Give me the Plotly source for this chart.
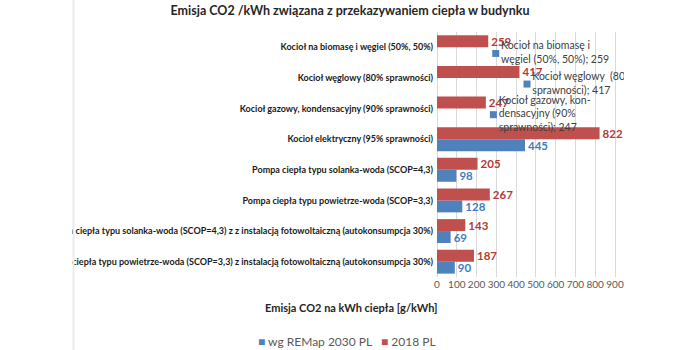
import plotly.graph_objects as go

# ---------------- data ----------------
categories = [
    "Kocioł na biomasę i węgiel (50%, 50%)",
    "Kocioł węglowy (80% sprawności)",
    "Kocioł gazowy, kondensacyjny (90% sprawności)",
    "Kocioł elektryczny (95% sprawności)",
    "Pompa ciepła typu solanka-woda (SCOP=4,3)",
    "Pompa ciepła typu powietrze-woda (SCOP=3,3)",
    "Pompa ciepła typu solanka-woda (SCOP=4,3) z z instalacją fotowoltaiczną (autokonsumpcja 30%)",
    "Pompa ciepła typu powietrze-woda (SCOP=3,3) z instalacją fotowoltaiczną (autokonsumpcja 30%)",
]
emis_2018 = [259, 417, 247, 822, 205, 267, 143, 187]
emis_remap = [None, None, None, 445, 98, 128, 69, 90]
series_names = ["wg REMap 2030 PL", "2018 PL"]
x_ticks = [0, 100, 200, 300, 400, 500, 600, 700, 800, 900]
# wrapped category names shown in the stray data-label callouts (first three rows)
callout_names = [
    "Kocioł na biomasę i<br>węgiel (50%, 50%)",
    "Kocioł węglowy  (80%<br>sprawności)",
    "Kocioł gazowy, kon-<br>densacyjny (90%<br>sprawności)",
]

title_text = "Emisja CO2 /kWh związana z przekazywaniem ciepła w budynku"
x_title = "Emisja CO2 na kWh ciepła [g/kWh]"

# ---------------- style ----------------
BLUE = "#4F81BD"
RED = "#C0504D"
BLUE_LBL = "#3F7CC0"
RED_LBL = "#B23B38"
FONT = "Lato"
W, H = 700, 350

n = len(categories)
ypos = [n - 1 - i for i in range(n)]

fig = go.Figure()

fig.add_trace(go.Bar(
    name=series_names[0], orientation="h",
    x=emis_remap, y=ypos,
    marker=dict(color=BLUE, line=dict(width=0)),
    text=[("" if v is None else str(v)) for v in emis_remap],
    textposition="outside", constraintext="none", cliponaxis=False,
    textfont=dict(family=FONT, size=11.5, color=BLUE_LBL, weight="bold"),
    hoverinfo="skip",
))
fig.add_trace(go.Bar(
    name=series_names[1], orientation="h",
    x=emis_2018, y=ypos,
    marker=dict(color=RED, line=dict(width=0)),
    text=[str(v) for v in emis_2018],
    textposition="outside", constraintext="none", cliponaxis=False,
    textfont=dict(family=FONT, size=11.5, color=RED_LBL, weight="bold"),
    hoverinfo="skip",
))

# stray callout labels (legend-key square + category; value)
k = len(callout_names)
callout_offset = 38
fig.add_trace(go.Scatter(
    x=[emis_2018[i] + callout_offset for i in range(k)],
    y=[ypos[i] - 0.2 for i in range(k)],
    mode="markers+text",
    marker=dict(symbol="square", size=7, color=BLUE),
    text=[f"{callout_names[i]}; {emis_2018[i]}" for i in range(k)],
    textposition="middle right",
    textfont=dict(family=FONT, size=10.5, color="#404040"),
    cliponaxis=True, showlegend=False, hoverinfo="skip",
))

x0_px, x900_px, xr_px = 437, 615, 624
x_max = 900 * (xr_px - x0_px) / (x900_px - x0_px)
y_top_px, y_bot_px = 32, 277

fig.update_layout(
    template="none",
    width=W, height=H,
    margin=dict(l=0, r=0, t=0, b=0),
    paper_bgcolor="white", plot_bgcolor="white",
    barmode="group", bargap=0.22, bargroupgap=0,
    showlegend=False,
    font=dict(family=FONT, color="#404040"),
    title=dict(text=title_text, x=0.5, xanchor="center",
               y=1 - 11 / H, yanchor="middle",
               font=dict(family=FONT, size=12.5, color="#262626", weight="bold")),
    xaxis=dict(
        domain=[x0_px / W, xr_px / W], range=[0, x_max],
        tickvals=x_ticks, ticktext=[str(t) for t in x_ticks],
        showgrid=True, gridcolor="#D9D9D9", gridwidth=1,
        zeroline=True, zerolinecolor="#D9D9D9", zerolinewidth=1,
        showline=False, ticks="", automargin=False,
        tickfont=dict(family=FONT, size=10, color="#595959"),
    ),
    yaxis=dict(
        domain=[1 - y_bot_px / H, 1 - y_top_px / H], range=[-0.5, n - 0.5],
        tickvals=ypos, ticktext=categories,
        showgrid=False, zeroline=False, showline=False, ticks="",
        automargin=False, ticklabelstandoff=3,
        tickfont=dict(family=FONT, size=9, color="#1A1A1A", weight="bold"),
    ),
)

# chart-area edge on the left (labels are cut there)
fig.add_shape(type="rect", xref="paper", yref="paper", x0=0, x1=72 / W, y0=0, y1=1,
              fillcolor="white", line=dict(width=0), layer="above")
fig.add_shape(type="line", xref="paper", yref="paper", x0=73.5 / W, x1=73.5 / W, y0=0, y1=1,
              line=dict(color="#EBEBEB", width=2), layer="above")

# axis title
fig.add_annotation(text=f"<b>{x_title}</b>", xref="paper", yref="paper",
                   x=263 / W, y=1 - 307 / H, xanchor="left", yanchor="middle",
                   showarrow=False, font=dict(family=FONT, size=11, color="#262626"))

# legend (Excel-style, below axis title)
legend_html = (f'<span style="color:{BLUE}">■</span> {series_names[0]}'
               f'   <span style="color:{RED}">■</span> {series_names[1]}')
fig.add_annotation(text=legend_html, xref="paper", yref="paper",
                   x=256 / W, y=1 - 341 / H, xanchor="left", yanchor="middle",
                   showarrow=False, font=dict(family=FONT, size=12, color="#595959"))

fig.write_html("out.html")
